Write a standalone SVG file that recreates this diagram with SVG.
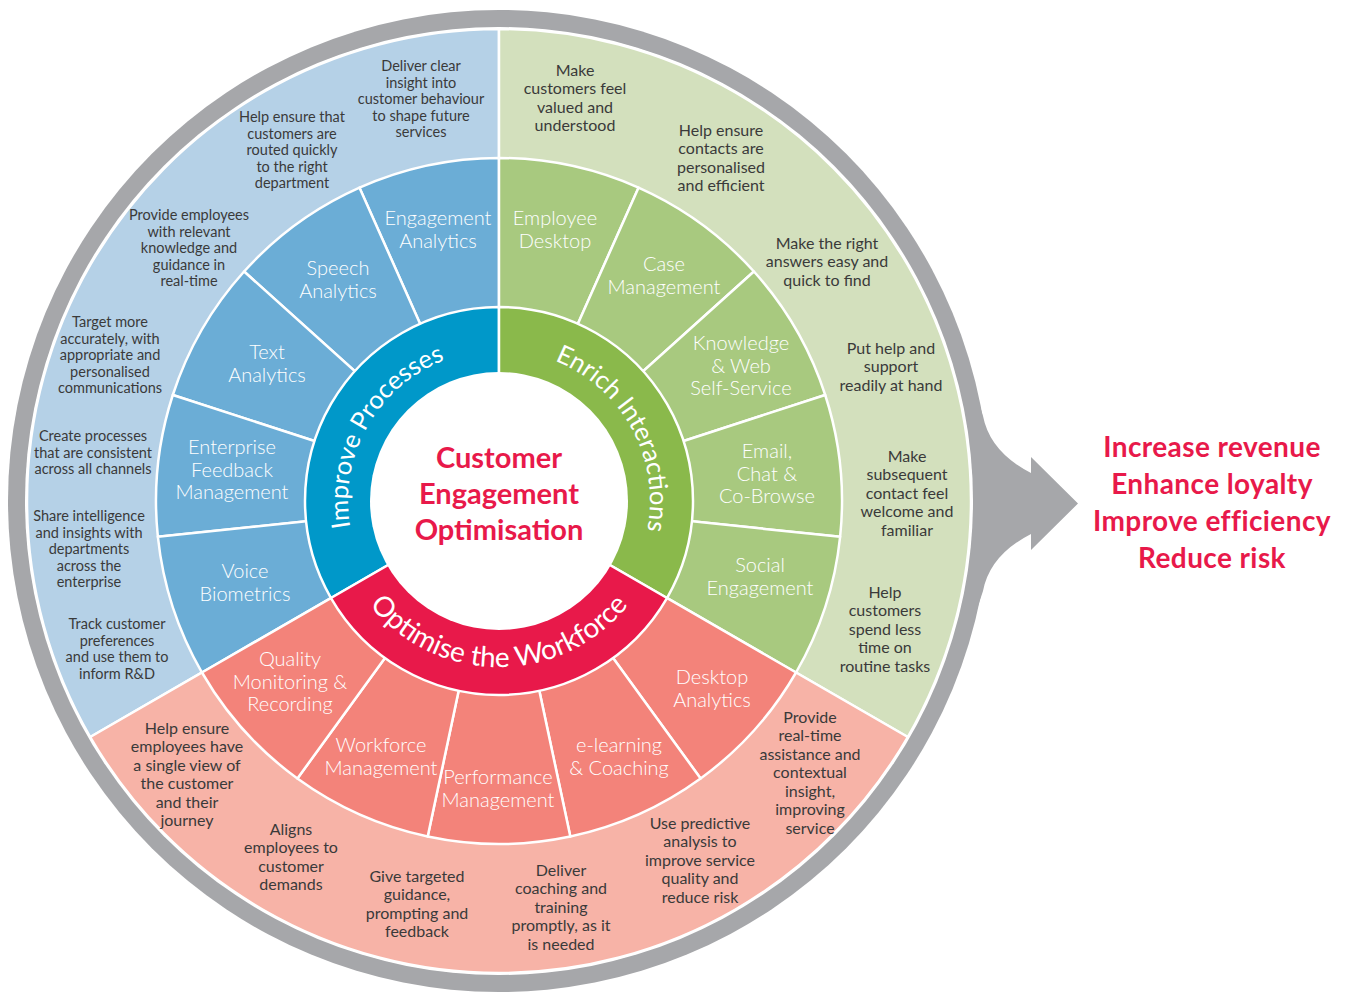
<svg xmlns="http://www.w3.org/2000/svg" width="1346" height="994" viewBox="0 0 1346 994">
<style>
.sep{stroke:#ffffff;stroke-width:2.5;stroke-linejoin:round}
.lbl{font-family:Lato,"Noto Sans",sans-serif;font-weight:300;font-size:20px;fill:#ffffff;text-anchor:middle}
.dsb{font-family:Lato,"Noto Sans",sans-serif;font-size:14.5px;fill:#3a3a3a;text-anchor:middle}
.dsg{font-family:Lato,"Noto Sans",sans-serif;font-size:16px;fill:#3a3a3a;text-anchor:middle}
.ring{font-family:Lato,"Noto Sans",sans-serif;font-size:25.5px;fill:#ffffff}
.title{font-family:Lato,"Noto Sans",sans-serif;font-weight:700;font-size:29px;fill:#e8194a;text-anchor:middle}
.out{font-family:Lato,"Noto Sans",sans-serif;font-weight:700;font-size:28px;letter-spacing:0.4px;fill:#e8194a;text-anchor:middle}
</style>
<defs>
<path id="tpImprove" d="M402.95,617.51 A151,151 0 0 1 549.41,358.66"/>
<path id="tpEnrich" d="M451.09,357.80 A151,151 0 0 1 593.0,619.17"/>
<path id="tpOptimise" d="M335.5,529.8 A166,166 0 0 0 662.5,529.8"/>
</defs>
<rect width="1346" height="994" fill="#ffffff"/>

<g id="frame">
<circle cx="499" cy="501" r="491" fill="#a6a7aa"/>
<path d="M975,390 L983,416 Q990,452 1031,473 L1031,457 L1078,503.5 L1031,550 L1031,534 Q990,555 983,591 L975,615 Z" fill="#a6a7aa"/>
<circle cx="499" cy="501" r="474" fill="#ffffff"/>
</g>

<g id="outer-ring">
<path id="outer-blue" class="sep" d="M499,501 L90.23,737 A472,472 0 0 1 499,29 Z" fill="#b5d1e7"/>
<path id="outer-green" class="sep" d="M499,501 L499,29 A472,472 0 0 1 907.77,737 Z" fill="#d3e0bd"/>
<path id="outer-salmon" class="sep" d="M499,501 L907.77,737 A472,472 0 0 1 90.23,737 Z" fill="#f7b3a7"/>
</g>

<g id="segments">
<g id="seg-engagement-analytics"><path class="sep" fill="#6badd6" d="M499,501 L359.49,187.65 A343,343 0 0 1 499,158 Z"/></g>
<g id="seg-speech-analytics"><path class="sep" fill="#6badd6" d="M499,501 L244.10,271.49 A343,343 0 0 1 359.49,187.65 Z"/></g>
<g id="seg-text-analytics"><path class="sep" fill="#6badd6" d="M499,501 L172.79,395.00 A343,343 0 0 1 244.10,271.49 Z"/></g>
<g id="seg-efm"><path class="sep" fill="#6badd6" d="M499,501 L157.88,536.85 A343,343 0 0 1 172.79,395.00 Z"/></g>
<g id="seg-voice-biometrics"><path class="sep" fill="#6badd6" d="M499,501 L201.95,672.5 A343,343 0 0 1 157.88,536.85 Z"/></g>
<g id="seg-employee-desktop"><path class="sep" fill="#a8c97f" d="M499,501 L499,158 A343,343 0 0 1 638.51,187.65 Z"/></g>
<g id="seg-case-management"><path class="sep" fill="#a8c97f" d="M499,501 L638.51,187.65 A343,343 0 0 1 753.90,271.49 Z"/></g>
<g id="seg-knowledge"><path class="sep" fill="#a8c97f" d="M499,501 L753.90,271.49 A343,343 0 0 1 825.21,395.00 Z"/></g>
<g id="seg-email"><path class="sep" fill="#a8c97f" d="M499,501 L825.21,395.00 A343,343 0 0 1 840.12,536.85 Z"/></g>
<g id="seg-social"><path class="sep" fill="#a8c97f" d="M499,501 L840.12,536.85 A343,343 0 0 1 796.05,672.5 Z"/></g>
<g id="seg-desktop-analytics"><path class="sep" fill="#f3837a" d="M499,501 L796.05,672.5 A343,343 0 0 1 700.61,778.49 Z"/></g>
<g id="seg-elearning"><path class="sep" fill="#f3837a" d="M499,501 L700.61,778.49 A343,343 0 0 1 570.31,836.51 Z"/></g>
<g id="seg-performance"><path class="sep" fill="#f3837a" d="M499,501 L570.31,836.51 A343,343 0 0 1 427.69,836.51 Z"/></g>
<g id="seg-workforce"><path class="sep" fill="#f3837a" d="M499,501 L427.69,836.51 A343,343 0 0 1 297.39,778.49 Z"/></g>
<g id="seg-quality"><path class="sep" fill="#f3837a" d="M499,501 L297.39,778.49 A343,343 0 0 1 201.95,672.5 Z"/></g>
</g>

<g id="inner-ring">
<g id="improve-processes"><path class="sep" fill="#0098c9" d="M499,501 L330.99,598 A194,194 0 0 1 499,307 Z"/></g>
<g id="enrich-interactions"><path class="sep" fill="#8ab94b" d="M499,501 L499,307 A194,194 0 0 1 667.01,598 Z"/></g>
<g id="optimise-workforce"><path class="sep" fill="#e8194a" d="M499,501 L667.01,598 A194,194 0 0 1 330.99,598 Z"/></g>
<circle cx="499" cy="501" r="129" fill="#ffffff"/>
</g>

<g id="ring-titles">
<text class="ring"><textPath href="#tpImprove" startOffset="50%" text-anchor="middle">Improve Processes</textPath></text>
<text class="ring"><textPath href="#tpEnrich" startOffset="50%" text-anchor="middle">Enrich Interactions</textPath></text>
<text class="ring" style="font-size:28px"><textPath href="#tpOptimise" startOffset="50%" text-anchor="middle">Optimise the Workforce</textPath></text>
</g>

<g id="centre">
<text class="title" x="499" y="468">Customer</text>
<text class="title" x="499" y="504">Engagement</text>
<text class="title" x="499" y="540">Optimisation</text>
</g>

<g id="segment-labels">
<text class="lbl" x="438" y="225">Engagement<tspan x="438" dy="22.5">Analytics</tspan></text>
<text class="lbl" x="338" y="275">Speech<tspan x="338" dy="22.5">Analytics</tspan></text>
<text class="lbl" x="267" y="359">Text<tspan x="267" dy="22.5">Analytics</tspan></text>
<text class="lbl" x="232" y="454">Enterprise<tspan x="232" dy="22.5">Feedback</tspan><tspan x="232" dy="22.5">Management</tspan></text>
<text class="lbl" x="245" y="578">Voice<tspan x="245" dy="22.5">Biometrics</tspan></text>
<text class="lbl" x="555" y="225">Employee<tspan x="555" dy="22.5">Desktop</tspan></text>
<text class="lbl" x="664" y="271">Case<tspan x="664" dy="22.5">Management</tspan></text>
<text class="lbl" x="741" y="350">Knowledge<tspan x="741" dy="22.5">&amp; Web</tspan><tspan x="741" dy="22.5">Self-Service</tspan></text>
<text class="lbl" x="767" y="458">Email,<tspan x="767" dy="22.5">Chat &amp;</tspan><tspan x="767" dy="22.5">Co-Browse</tspan></text>
<text class="lbl" x="760" y="572">Social<tspan x="760" dy="22.5">Engagement</tspan></text>
<text class="lbl" x="712" y="684">Desktop<tspan x="712" dy="22.5">Analytics</tspan></text>
<text class="lbl" x="619" y="752">e-learning<tspan x="619" dy="22.5">&amp; Coaching</tspan></text>
<text class="lbl" x="498" y="784">Performance<tspan x="498" dy="22.5">Management</tspan></text>
<text class="lbl" x="381" y="752">Workforce<tspan x="381" dy="22.5">Management</tspan></text>
<text class="lbl" x="290" y="666">Quality<tspan x="290" dy="22.5">Monitoring &amp;</tspan><tspan x="290" dy="22.5">Recording</tspan></text>
</g>

<g id="descriptions">
<text class="dsb" x="421" y="71">Deliver clear<tspan x="421" dy="16.5">insight into</tspan><tspan x="421" dy="16.5">customer behaviour</tspan><tspan x="421" dy="16.5">to shape future</tspan><tspan x="421" dy="16.5">services</tspan></text>
<text class="dsb" x="292" y="122">Help ensure that<tspan x="292" dy="16.5">customers are</tspan><tspan x="292" dy="16.5">routed quickly</tspan><tspan x="292" dy="16.5">to the right</tspan><tspan x="292" dy="16.5">department</tspan></text>
<text class="dsb" x="189" y="220">Provide employees<tspan x="189" dy="16.5">with relevant</tspan><tspan x="189" dy="16.5">knowledge and</tspan><tspan x="189" dy="16.5">guidance in</tspan><tspan x="189" dy="16.5">real-time</tspan></text>
<text class="dsb" x="110" y="327">Target more<tspan x="110" dy="16.5">accurately, with</tspan><tspan x="110" dy="16.5">appropriate and</tspan><tspan x="110" dy="16.5">personalised</tspan><tspan x="110" dy="16.5">communications</tspan></text>
<text class="dsb" x="93" y="441">Create processes<tspan x="93" dy="16.5">that are consistent</tspan><tspan x="93" dy="16.5">across all channels</tspan></text>
<text class="dsb" x="89" y="521">Share intelligence<tspan x="89" dy="16.5">and insights with</tspan><tspan x="89" dy="16.5">departments</tspan><tspan x="89" dy="16.5">across the</tspan><tspan x="89" dy="16.5">enterprise</tspan></text>
<text class="dsb" x="117" y="629">Track customer<tspan x="117" dy="16.5">preferences</tspan><tspan x="117" dy="16.5">and use them to</tspan><tspan x="117" dy="16.5">inform R&amp;D</tspan></text>

<text class="dsg" x="575" y="75.5">Make<tspan x="575" dy="18.5">customers feel</tspan><tspan x="575" dy="18.5">valued and</tspan><tspan x="575" dy="18.5">understood</tspan></text>
<text class="dsg" x="721" y="135.5">Help ensure<tspan x="721" dy="18.5">contacts are</tspan><tspan x="721" dy="18.5">personalised</tspan><tspan x="721" dy="18.5">and efficient</tspan></text>
<text class="dsg" x="827" y="248.5">Make the right<tspan x="827" dy="18.5">answers easy and</tspan><tspan x="827" dy="18.5">quick to find</tspan></text>
<text class="dsg" x="891" y="353.5">Put help and<tspan x="891" dy="18.5">support</tspan><tspan x="891" dy="18.5">readily at hand</tspan></text>
<text class="dsg" x="907" y="461.5">Make<tspan x="907" dy="18.5">subsequent</tspan><tspan x="907" dy="18.5">contact feel</tspan><tspan x="907" dy="18.5">welcome and</tspan><tspan x="907" dy="18.5">familiar</tspan></text>
<text class="dsg" x="885" y="597.5">Help<tspan x="885" dy="18.5">customers</tspan><tspan x="885" dy="18.5">spend less</tspan><tspan x="885" dy="18.5">time on</tspan><tspan x="885" dy="18.5">routine tasks</tspan></text>

<text class="dsg" x="810" y="722.5">Provide<tspan x="810" dy="18.5">real-time</tspan><tspan x="810" dy="18.5">assistance and</tspan><tspan x="810" dy="18.5">contextual</tspan><tspan x="810" dy="18.5">insight,</tspan><tspan x="810" dy="18.5">improving</tspan><tspan x="810" dy="18.5">service</tspan></text>
<text class="dsg" x="700" y="828.5">Use predictive<tspan x="700" dy="18.5">analysis to</tspan><tspan x="700" dy="18.5">improve service</tspan><tspan x="700" dy="18.5">quality and</tspan><tspan x="700" dy="18.5">reduce risk</tspan></text>
<text class="dsg" x="561" y="875.5">Deliver<tspan x="561" dy="18.5">coaching and</tspan><tspan x="561" dy="18.5">training</tspan><tspan x="561" dy="18.5">promptly, as it</tspan><tspan x="561" dy="18.5">is needed</tspan></text>
<text class="dsg" x="417" y="881.5">Give targeted<tspan x="417" dy="18.5">guidance,</tspan><tspan x="417" dy="18.5">prompting and</tspan><tspan x="417" dy="18.5">feedback</tspan></text>
<text class="dsg" x="291" y="834.5">Aligns<tspan x="291" dy="18.5">employees to</tspan><tspan x="291" dy="18.5">customer</tspan><tspan x="291" dy="18.5">demands</tspan></text>
<text class="dsg" x="187" y="733.5">Help ensure<tspan x="187" dy="18.5">employees have</tspan><tspan x="187" dy="18.5">a single view of</tspan><tspan x="187" dy="18.5">the customer</tspan><tspan x="187" dy="18.5">and their</tspan><tspan x="187" dy="18.5">journey</tspan></text>
</g>

<g id="outcomes">
<text class="out" x="1212" y="457">Increase revenue</text>
<text class="out" x="1212" y="494">Enhance loyalty</text>
<text class="out" x="1212" y="531">Improve efficiency</text>
<text class="out" x="1212" y="568">Reduce risk</text>
</g>
</svg>
